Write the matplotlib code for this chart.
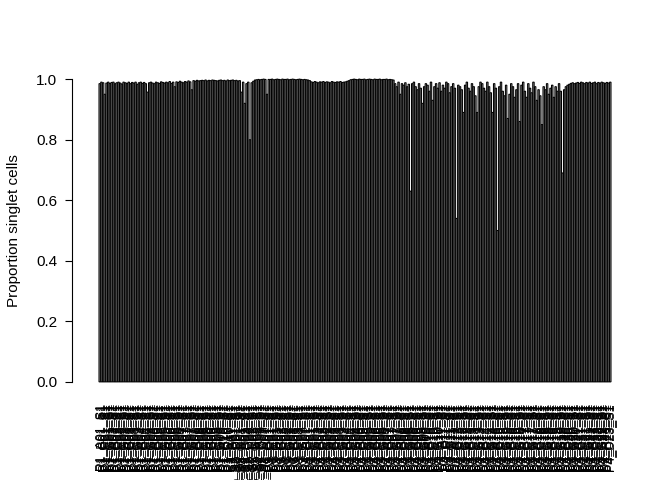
import matplotlib
matplotlib.use("Agg")
import matplotlib.pyplot as plt

plt.rcParams['font.family'] = ['Liberation Sans', 'DejaVu Sans']

# proportion of singlet cells per sample
singlet = [
    0.985, 0.990, 0.988, 0.950, 0.987, 0.990, 0.986, 0.989, 0.990, 0.985,
    0.988, 0.990, 0.987, 0.984, 0.990, 0.988, 0.986, 0.990, 0.985, 0.989,
    0.987, 0.990, 0.983, 0.988, 0.990, 0.986, 0.989, 0.985, 0.957, 0.988,
    0.990, 0.987, 0.985, 0.990, 0.988, 0.986, 0.991, 0.989, 0.987, 0.990,
    0.988, 0.992, 0.986, 0.990, 0.975, 0.991, 0.989, 0.993, 0.990, 0.988,
    0.992, 0.990, 0.994, 0.991, 0.965, 0.995, 0.993, 0.996, 0.994, 0.995,
    0.996, 0.995, 0.997, 0.994, 0.996, 0.995, 0.997, 0.996, 0.995, 0.994,
    0.996, 0.997, 0.995, 0.996, 0.994, 0.997, 0.995, 0.996, 0.997, 0.995,
    0.996, 0.994, 0.995, 0.957, 0.990, 0.920, 0.985, 0.990, 0.800, 0.988,
    0.993, 0.997, 0.998, 0.999, 0.998, 0.999, 1.000, 0.999, 0.950, 0.999,
    0.999, 1.000, 0.998, 0.999, 1.000, 0.999, 0.998, 1.000, 0.999, 0.999,
    1.000, 0.998, 0.999, 1.000, 0.999, 0.998, 0.999, 1.000, 0.999, 0.998,
    0.999, 0.998, 0.997, 0.995, 0.991, 0.989, 0.992, 0.990, 0.988, 0.991,
    0.990, 0.992, 0.989, 0.991, 0.990, 0.988, 0.992, 0.990, 0.989, 0.991,
    0.990, 0.992, 0.989, 0.990, 0.991, 0.993, 0.995, 0.998, 0.999, 1.000,
    0.999, 0.998, 1.000, 0.999, 0.999, 1.000, 0.998, 0.999, 1.000, 0.999,
    0.998, 1.000, 0.999, 0.999, 1.000, 0.998, 0.999, 0.999, 1.000, 0.998,
    0.999, 0.998, 0.997, 0.985, 0.975, 0.990, 0.950, 0.985, 0.980, 0.988,
    0.975, 0.983, 0.630, 0.985, 0.990, 0.975, 0.965, 0.985, 0.970, 0.920,
    0.975, 0.985, 0.980, 0.960, 0.990, 0.930, 0.975, 0.985, 0.970, 0.988,
    0.960, 0.980, 0.970, 0.990, 0.985, 0.955, 0.975, 0.985, 0.970, 0.540,
    0.980, 0.975, 0.965, 0.890, 0.980, 0.990, 0.970, 0.960, 0.985, 0.975,
    0.945, 0.890, 0.975, 0.990, 0.985, 0.970, 0.960, 0.990, 0.975, 0.955,
    0.890, 0.985, 0.970, 0.500, 0.975, 0.990, 0.960, 0.945, 0.980, 0.870,
    0.950, 0.985, 0.975, 0.940, 0.965, 0.985, 0.860, 0.980, 0.990, 0.960,
    0.940, 0.985, 0.970, 0.955, 0.990, 0.975, 0.930, 0.965, 0.945, 0.850,
    0.975, 0.965, 0.985, 0.950, 0.970, 0.980, 0.940, 0.975, 0.960, 0.985,
    0.960, 0.690, 0.965, 0.975, 0.980, 0.983, 0.986, 0.988, 0.985, 0.987,
    0.989, 0.986, 0.990, 0.988, 0.985, 0.989, 0.987, 0.990, 0.986, 0.988,
    0.990, 0.985, 0.989, 0.987, 0.990, 0.988, 0.986, 0.989, 0.987, 0.990,
]

# sample groups: (prefix, number of samples)
groups = [("P1_", 77), ("P2_S2_", 20), ("P3_", 23), ("P4_", 180)]
rows = "ABCDEFGH"

sample_names = []
for prefix, n in groups:
    for k in range(n):
        sample_names.append(f"{prefix}{rows[k % 8]}{k // 8 + 1:02d}_S1")

fig = plt.figure(figsize=(6.72, 4.8), dpi=100)
W, H = 672, 480
ax = fig.add_axes([72 / W, (480 - 394) / H, (638 - 72) / W, (394 - 67) / H])

x = list(range(len(singlet)))
bars = ax.bar(x, singlet, width=0.833, color="#bebebe", edgecolor="black", linewidth=0.75)
for b in bars:
    b.set_snap(False)

half = 0.4167
pad = 27 / (512 / (len(singlet) - 1 + 2 * half))
ax.set_xlim(-half - pad, len(singlet) - 1 + half + pad)
ax.set_ylim(-0.04, 1.04)

for s in ["top", "right", "bottom"]:
    ax.spines[s].set_visible(False)
ax.spines["left"].set_bounds(0, 1)
ax.spines["left"].set_linewidth(0.8)

ax.set_yticks([0, 0.2, 0.4, 0.6, 0.8, 1.0])
ax.set_yticklabels(["0.0", "0.2", "0.4", "0.6", "0.8", "1.0"], fontsize=11)
ax.tick_params(axis="y", length=5, width=0.8, pad=5.5)

ax.set_xticks(x)
ax.set_xticklabels(sample_names, rotation=90, fontsize=9)
ax.tick_params(axis="x", length=0, pad=6.5)

ax.set_ylabel("Proportion singlet cells", fontsize=11)
ax.yaxis.set_label_coords(-51 / 566, 0.5)

fig.savefig("out.png", dpi=100)
